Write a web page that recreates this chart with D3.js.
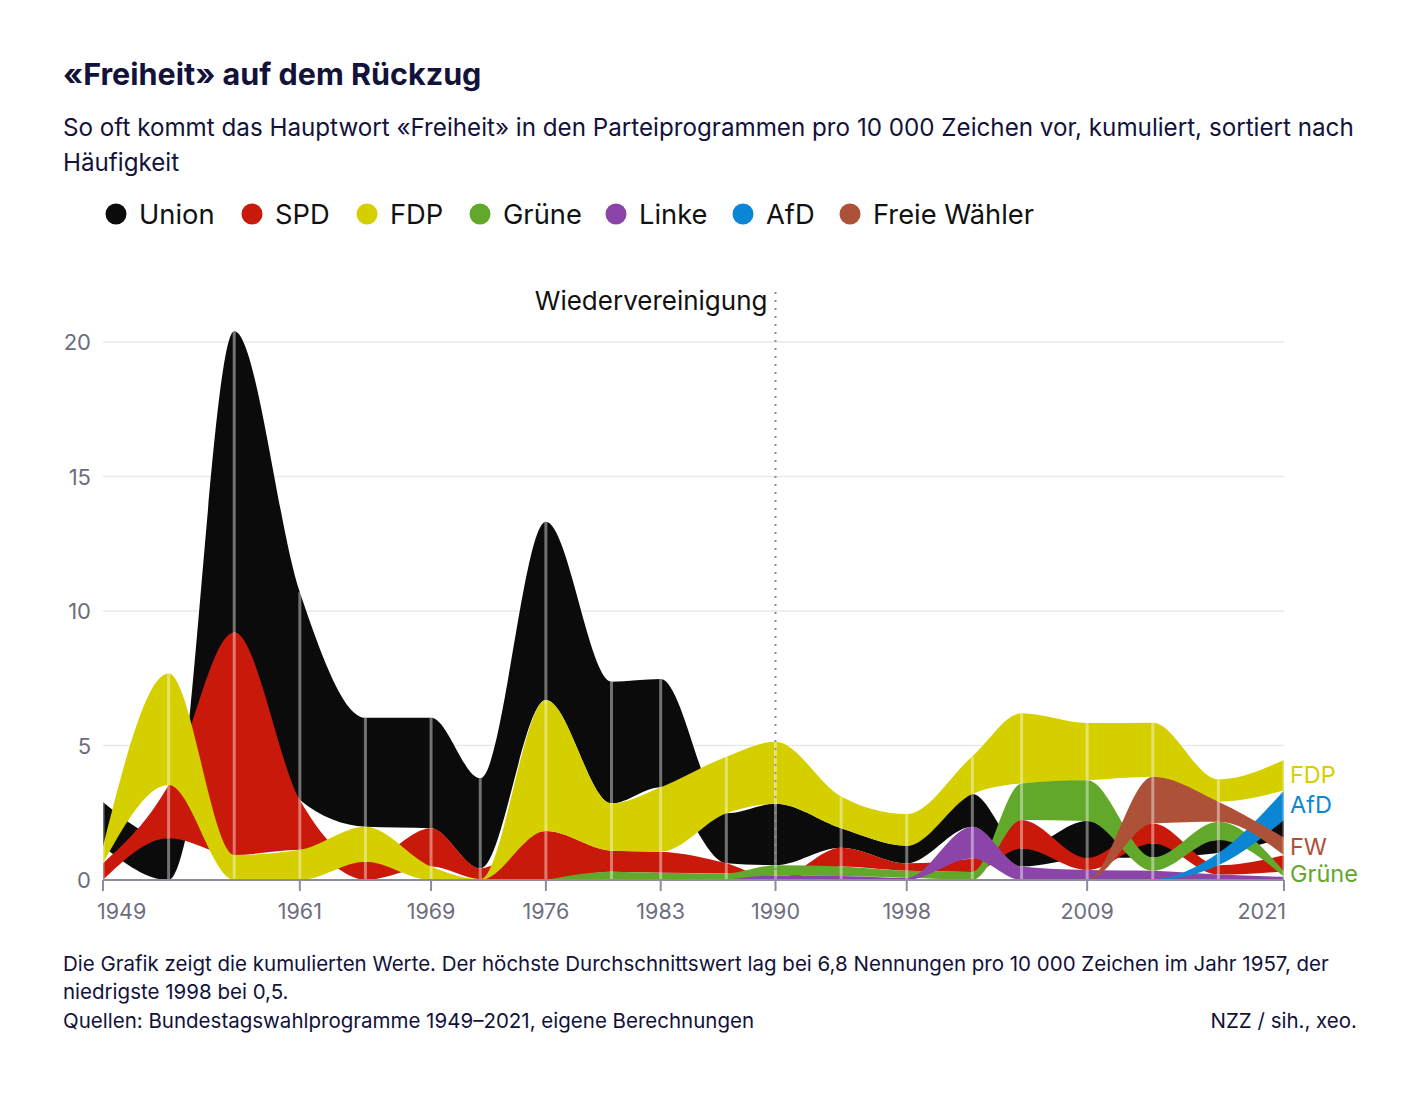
<!DOCTYPE html>
<html><head><meta charset="utf-8">
<script src="https://cdn.jsdelivr.net/npm/d3@7"></script>
<style>
html,body{margin:0;padding:0;background:#fff;}
svg{display:block;font-family:Inter,Roboto,"Noto Sans",sans-serif;}
</style></head>
<body>
<svg id="chart" width="1420" height="1096"></svg>
<script>
// ---- data ----
const years = [1949,1953,1957,1961,1965,1969,1972,1976,1980,1983,1987,1990,1994,1998,2002,2005,2009,2013,2017,2021];
const parties = ["Union","SPD","FDP","Grüne","Linke","AfD","Freie Wähler"];
const colors  = ["#0b0b0b","#c8190a","#d5cf00","#62a82a","#8b45a9","#0a86d4","#ae5139"];
const union  = [1.65,1.55,11.2,7.73,4.05,4.11,3.35,6.63,4.52,4.02,1.86,2.28,0.72,0.65,1.22,0.67,1.37,0.52,0.49,0.66];
const spd    = [0.62,1.98,8.27,1.85,0.68,1.42,0.40,1.82,0.78,0.78,0.37,0.02,0.70,0.28,0.50,1.06,0.45,0.74,0.35,0.60];
const fdp    = [0.63,4.15,0.93,1.12,1.30,0.50,0.03,4.87,1.76,2.40,2.10,2.31,1.18,1.18,1.40,2.61,2.13,2.01,0.83,1.13];
const gruene = [0,0,0,0,0,0,0,0,0.31,0.27,0.25,0.38,0.35,0.26,0.30,1.36,1.52,0.50,0.68,0.20];
const linke  = [0,0,0,0,0,0,0,0,0,0,0,0.15,0.15,0.08,1.18,0.50,0.35,0.32,0.20,0.12];
const afd    = [0,0,0,0,0,0,0,0,0,0,0,0,0,0,0,0,0,0.02,0.45,1.10];
const fw     = [0,0,0,0,0,0,0,0,0,0,0,0,0,0,0,0,0.02,1.74,0.74,0.65];
const series = [union,spd,fdp,gruene,linke,afd,fw];
const xTicks = [1949,1961,1969,1976,1983,1990,1998,2009,2021];
const yTicks = [0,5,10,15,20];
const endLabels = [{party:"FDP",text:"FDP"},{party:"AfD",text:"AfD"},{party:"Freie Wähler",text:"FW"},{party:"Grüne",text:"Grüne"}];

// ---- layout ----
const svg = d3.select("#chart");
const x = d3.scaleLinear().domain([1949,2021]).range([103,1284]);
const y = d3.scaleLinear().domain([0,20]).range([880,342]);
const ink = "#12123a";

// title / subtitle
svg.append("text").attr("x",63).attr("y",85).attr("font-size",30.5).attr("font-weight",700)
  .attr("fill",ink).text("«Freiheit» auf dem Rückzug");
const sub = svg.append("text").attr("x",63).attr("font-size",24.2).attr("fill",ink);
sub.append("tspan").attr("x",63).attr("y",136).text("So oft kommt das Hauptwort «Freiheit» in den Parteiprogrammen pro 10 000 Zeichen vor, kumuliert, sortiert nach");
sub.append("tspan").attr("x",63).attr("y",171).text("Häufigkeit");

// legend
const legX = [116,252,367,480,616,743,850];
parties.forEach((p,i)=>{
  svg.append("circle").attr("cx",legX[i]).attr("cy",214).attr("r",10.5).attr("fill",colors[i]);
  svg.append("text").attr("x",legX[i]+23).attr("y",224).attr("font-size",27.3).attr("fill","#111").text(p);
});

// gridlines + y labels
yTicks.forEach(t=>{
  if(t>0) svg.append("line").attr("x1",103).attr("x2",1284).attr("y1",y(t)).attr("y2",y(t))
    .attr("stroke","#e9e9ec").attr("stroke-width",1.5);
  svg.append("text").attr("x",91).attr("y",y(t)+8).attr("text-anchor","end")
    .attr("font-size",22).attr("fill","#6d6d80").text(t);
});

// stacking sorted per year (smallest at the bottom)
const stacks = series.map(()=>[]);
const totals = [];
years.forEach((yr,j)=>{
  const idx = series.map((s,i)=>i).sort((a,b)=> (series[a][j]-series[b][j]) || (a-b));
  let acc = 0;
  idx.forEach(i=>{
    const v = series[i][j];
    stacks[i].push({year:yr,y0:acc,y1:acc+v});
    acc += v;
  });
  totals.push(acc);
});

const area = d3.area().x(d=>x(d.year)).y0(d=>y(d.y0)).y1(d=>y(d.y1)).curve(d3.curveMonotoneX);
const gA = svg.append("g");
stacks.forEach((st,i)=>{
  const first = st.findIndex((d,j)=>series[i][j]>0);
  const s0 = Math.max(0,first-1);
  gA.append("path").attr("d",area(st.slice(s0))).attr("fill",colors[i]);
});

// election-year lines
years.forEach((yr,j)=>{
  svg.append("line").attr("x1",x(yr)).attr("x2",x(yr)).attr("y1",y(totals[j])).attr("y2",y(0))
    .attr("stroke","#fff").attr("stroke-opacity",0.42).attr("stroke-width",3);
});

// reunification marker
svg.append("line").attr("x1",x(1990)).attr("x2",x(1990)).attr("y1",292).attr("y2",y(0))
  .attr("stroke","#8e8e9a").attr("stroke-width",2).attr("stroke-dasharray","2,6");
svg.append("text").attr("x",x(1990)-8).attr("y",310).attr("text-anchor","end")
  .attr("font-size",26).attr("fill","#111").text("Wiedervereinigung");

// x axis
svg.append("line").attr("x1",103).attr("x2",1284).attr("y1",y(0)).attr("y2",y(0))
  .attr("stroke","#8c8c9c").attr("stroke-width",2);
xTicks.forEach(t=>{
  svg.append("line").attr("x1",x(t)).attr("x2",x(t)).attr("y1",y(0)).attr("y2",y(0)+11)
    .attr("stroke","#8c8c9c").attr("stroke-width",2);
  svg.append("text").attr("x",x(t)).attr("y",919).attr("text-anchor",t===1949?"start":(t===2021?"end":"middle"))
    .attr("dx",t===1949?-6:(t===2021?2:0))
    .attr("font-size",21.5).attr("fill","#6d6d80").text(t);
});

// end labels
const last = years.length-1;
endLabels.forEach(l=>{
  const i = parties.indexOf(l.party);
  const d = stacks[i][last];
  svg.append("text").attr("x",1290).attr("y",y((d.y0+d.y1)/2)+8).attr("font-size",23.5)
    .attr("fill",colors[i]).text(l.text);
});

// footer
const ft = svg.append("text").attr("font-size",20.5).attr("fill",ink);
ft.append("tspan").attr("x",63).attr("y",971).text("Die Grafik zeigt die kumulierten Werte. Der höchste Durchschnittswert lag bei 6,8 Nennungen pro 10 000 Zeichen im Jahr 1957, der");
ft.append("tspan").attr("x",63).attr("y",999).text("niedrigste 1998 bei 0,5.");
svg.append("text").attr("x",63).attr("y",1028).attr("font-size",20.5).attr("fill",ink)
  .text("Quellen: Bundestagswahlprogramme 1949–2021, eigene Berechnungen");
svg.append("text").attr("x",1357).attr("y",1028).attr("font-size",20.5).attr("fill",ink).attr("text-anchor","end")
  .text("NZZ / sih., xeo.");
</script>
</body></html>
